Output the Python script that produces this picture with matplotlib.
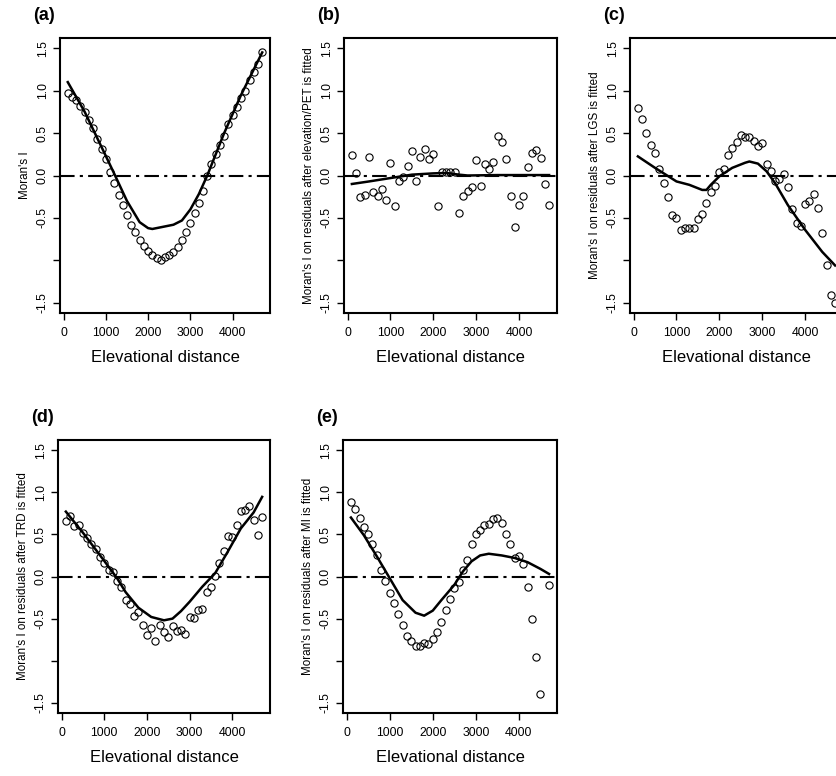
import numpy as np
import matplotlib
matplotlib.use("Agg")
import matplotlib.pyplot as plt

plt.rcParams['font.family'] = ['Liberation Sans', 'DejaVu Sans']

# distance classes (m)
dist = np.arange(100, 4800, 100)

# observed Moran's I (circles)
moran_a = [0.97, 0.93, 0.89, 0.82, 0.75, 0.65, 0.555, 0.43, 0.31, 0.19,
           0.04, -0.09, -0.23, -0.35, -0.46, -0.58, -0.66, -0.76, -0.83, -0.89,
           -0.94, -0.97, -0.99, -0.96, -0.94, -0.90, -0.84, -0.76, -0.66, -0.56,
           -0.44, -0.32, -0.18, 0.0, 0.13, 0.25, 0.36, 0.47, 0.61, 0.71,
           0.81, 0.91, 1.0, 1.12, 1.22, 1.31, 1.45]
moran_b = [0.24, 0.035, -0.25, -0.23, 0.22, -0.19, -0.24, -0.16, -0.29, 0.15,
           -0.36, -0.07, -0.02, 0.11, 0.29, -0.07, 0.22, 0.31, 0.19, 0.25,
           -0.36, 0.04, 0.04, 0.04, 0.04, -0.44, -0.24, -0.18, -0.14, 0.18,
           -0.12, 0.13, 0.075, 0.16, 0.46, 0.40, 0.19, -0.24, -0.61, -0.35,
           -0.24, 0.10, 0.26, 0.30, 0.21, -0.10, -0.35]
moran_c = [0.80, 0.67, 0.50, 0.36, 0.27, 0.08, -0.09, -0.25, -0.46, -0.50,
           -0.64, -0.62, -0.62, -0.62, -0.51, -0.45, -0.32, -0.19, -0.12, 0.04,
           0.08, 0.24, 0.32, 0.39, 0.48, 0.45, 0.45, 0.41, 0.35, 0.38,
           0.14, 0.055, -0.07, -0.04, 0.02, -0.13, -0.40, -0.56, -0.60, -0.33,
           -0.30, -0.22, -0.38, -0.68, -1.06, -1.41, -1.50]
moran_d = [0.66, 0.72, 0.60, 0.61, 0.52, 0.46, 0.39, 0.33, 0.23, 0.165,
           0.08, 0.05, -0.05, -0.13, -0.28, -0.33, -0.47, -0.42, -0.57, -0.69,
           -0.61, -0.76, -0.58, -0.66, -0.72, -0.59, -0.65, -0.63, -0.68, -0.48,
           -0.49, -0.40, -0.39, -0.18, -0.13, 0.01, 0.16, 0.30, 0.48, 0.465,
           0.61, 0.78, 0.79, 0.84, 0.665, 0.49, 0.71]
moran_e = [0.88, 0.80, 0.69, 0.59, 0.50, 0.39, 0.26, 0.08, -0.05, -0.19,
           -0.32, -0.44, -0.58, -0.71, -0.77, -0.83, -0.83, -0.79, -0.80, -0.74,
           -0.66, -0.535, -0.40, -0.27, -0.14, -0.06, 0.075, 0.19, 0.38, 0.50,
           0.555, 0.61, 0.62, 0.68, 0.69, 0.63, 0.50, 0.385, 0.225, 0.24,
           0.145, -0.12, -0.51, -0.95, -1.40, np.nan, -0.10]

# fitted smooth curves
fit_a_x = [100, 500, 1000, 1200, 1500, 1800, 2000, 2100, 2300, 2600, 2800, 3000, 3200, 3400, 3800, 4200, 4700]
fit_a_y = [1.10, 0.75, 0.23, 0.02, -0.30, -0.55, -0.62, -0.63, -0.61, -0.58, -0.53, -0.40, -0.22, 0.0, 0.50, 0.95, 1.45]
fit_b_x = [100, 500, 1000, 1500, 2000, 2300, 2600, 2800, 3500, 4700]
fit_b_y = [-0.10, -0.07, -0.03, 0.01, 0.025, 0.03, 0.01, 0.0, 0.005, 0.005]
fit_c_x = [100, 500, 1000, 1300, 1600, 1700, 1800, 2000, 2300, 2600, 2700, 2900, 3100, 3300, 3600, 4000, 4400, 4700]
fit_c_y = [0.225, 0.09, -0.07, -0.11, -0.17, -0.17, -0.11, -0.01, 0.09, 0.15, 0.165, 0.14, 0.05, -0.09, -0.35, -0.64, -0.90, -1.06]
fit_d_x = [100, 500, 1000, 1300, 1500, 1800, 2100, 2400, 2600, 2800, 3000, 3300, 3600, 3900, 4200, 4500, 4700]
fit_d_y = [0.77, 0.52, 0.185, -0.02, -0.185, -0.37, -0.48, -0.52, -0.50, -0.41, -0.30, -0.12, 0.04, 0.30, 0.57, 0.76, 0.945]
fit_e_x = [100, 400, 700, 1000, 1300, 1600, 1800, 2000, 2200, 2500, 2700, 2900, 3100, 3300, 3600, 3900, 4200, 4500, 4700]
fit_e_y = [0.70, 0.49, 0.24, -0.02, -0.28, -0.43, -0.465, -0.405, -0.28, -0.10, 0.06, 0.18, 0.25, 0.27, 0.25, 0.22, 0.17, 0.09, 0.03]

panels = [
    ('(a)', "Moran's I", moran_a, fit_a_x, fit_a_y),
    ('(b)', "Moran's I on residuals after elevation/PET is fitted", moran_b, fit_b_x, fit_b_y),
    ('(c)', "Moran's I on residuals after LGS is fitted", moran_c, fit_c_x, fit_c_y),
    ('(d)', "Moran's I on residuals after TRD is fitted", moran_d, fit_d_x, fit_d_y),
    ('(e)', "Moran's I on residuals after MI is fitted", moran_e, fit_e_x, fit_e_y),
]

W, H = 837, 776
fig = plt.figure(figsize=(W / 100, H / 100), dpi=100)

# axes boxes in pixels from the top: left, top, right, bottom
boxes = [(60, 38, 270, 313), (344, 38, 557, 313), (630, 38, 843, 313),
         (58, 440, 270, 713), (343, 440, 557, 713)]

for (lab, ylab, vals, fx, fy), (l, t, r, b) in zip(panels, boxes):
    ax = fig.add_axes([l / W, 1 - b / H, (r - l) / W, (b - t) / H])
    ax.axhline(0, color='black', lw=1.5, dashes=(7, 2.5, 1.5, 2.5))
    ax.plot(dist, vals, 'o', mfc='none', mec='black', ms=5.2, mew=0.8)
    ax.plot(fx, fy, color='black', lw=1.8)
    ax.set_xlim(-84, 4884)
    ax.set_ylim(-1.62, 1.62)
    ax.set_xticks([0, 1000, 2000, 3000, 4000])
    ax.set_yticks([-1.5, -1.0, -0.5, 0.0, 0.5, 1.0, 1.5])
    ax.set_yticklabels(['-1.5', '', '-0.5', '0.0', '0.5', '1.0', '1.5'],
                       rotation=90, va='center')
    ax.tick_params(direction='out', length=5, width=1, labelsize=8.8, pad=3)
    ax.tick_params(axis='x', pad=5)
    for s in ax.spines.values():
        s.set_linewidth(1.5)
    ax.set_xlabel('Elevational distance', fontsize=12, labelpad=8)
    ax.set_ylabel(ylab, fontsize=8.4, labelpad=4)
    fig.text((l - 27) / W, 1 - (t - 23) / H, lab, fontsize=13, fontweight='bold',
             ha='left', va='center')

fig.savefig('out.png', dpi=100)
